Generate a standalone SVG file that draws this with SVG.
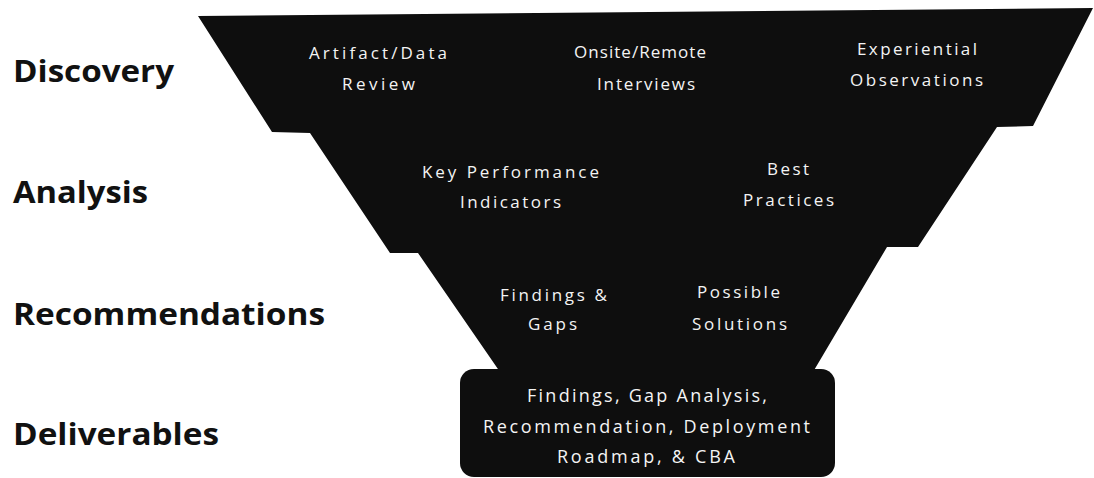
<svg xmlns="http://www.w3.org/2000/svg" width="1094" height="478" viewBox="0 0 1094 478">
<style>
.stage{font-family:"Open Sans","Liberation Sans",Arial,sans-serif;font-weight:bold;font-size:31px;fill:#111;}
.item{font-family:"Open Sans","Liberation Sans",sans-serif;font-size:17px;fill:#f4f4f4;}
.deliv{font-family:"Open Sans","Liberation Sans",sans-serif;font-size:18px;fill:#f4f4f4;font-weight:500;}
.shape{fill:#0e0e0e;}
</style>
<rect width="1094" height="478" fill="#ffffff"/>
<g id="stages">
<text class="stage" x="13" y="82" textLength="161" lengthAdjust="spacingAndGlyphs">Discovery</text>
<text class="stage" x="13" y="203" textLength="135" lengthAdjust="spacingAndGlyphs">Analysis</text>
<text class="stage" x="13" y="325" textLength="312" lengthAdjust="spacingAndGlyphs">Recommendations</text>
<text class="stage" x="13" y="445" textLength="206" lengthAdjust="spacingAndGlyphs">Deliverables</text>
</g>
<g id="funnel">
<path class="shape" d="M198,16 L1093,8 L1033,126 L997,127 L918,247 L887,247 L813,372 L500,372 L418,253 L390,253 L310,133 L272,132 Z"/>
</g>
<g id="discovery-items">
<text class="item" x="309" y="59" textLength="138" lengthAdjust="spacing">Artifact/Data</text>
<text class="item" x="342" y="90" textLength="73" lengthAdjust="spacing">Review</text>
<text class="item" x="574" y="58" textLength="132" lengthAdjust="spacing">Onsite/Remote</text>
<text class="item" x="597" y="90" textLength="98" lengthAdjust="spacing">Interviews</text>
<text class="item" x="857" y="55" textLength="120" lengthAdjust="spacing">Experiential</text>
<text class="item" x="850" y="86" textLength="133" lengthAdjust="spacing">Observations</text>
</g>
<g id="analysis-items">
<text class="item" x="422" y="178" textLength="177" lengthAdjust="spacing">Key Performance</text>
<text class="item" x="460" y="208" textLength="101" lengthAdjust="spacing">Indicators</text>
<text class="item" x="767" y="175" textLength="42" lengthAdjust="spacing">Best</text>
<text class="item" x="743" y="206" textLength="91" lengthAdjust="spacing">Practices</text>
</g>
<g id="recommendation-items">
<text class="item" x="500" y="301" textLength="107" lengthAdjust="spacing">Findings &amp;</text>
<text class="item" x="528" y="330" textLength="49" lengthAdjust="spacing">Gaps</text>
<text class="item" x="697" y="298" textLength="83" lengthAdjust="spacing">Possible</text>
<text class="item" x="692" y="330" textLength="95" lengthAdjust="spacing">Solutions</text>
</g>
<g id="deliverables">
<rect class="shape" x="460" y="369" width="375" height="108" rx="14"/>
<text class="deliv" x="527" y="402" textLength="240" lengthAdjust="spacing">Findings, Gap Analysis,</text>
<text class="deliv" x="483" y="433" textLength="327" lengthAdjust="spacing">Recommendation, Deployment</text>
<text class="deliv" x="557" y="463" textLength="178" lengthAdjust="spacing">Roadmap, &amp; CBA</text>
</g>
</svg>
